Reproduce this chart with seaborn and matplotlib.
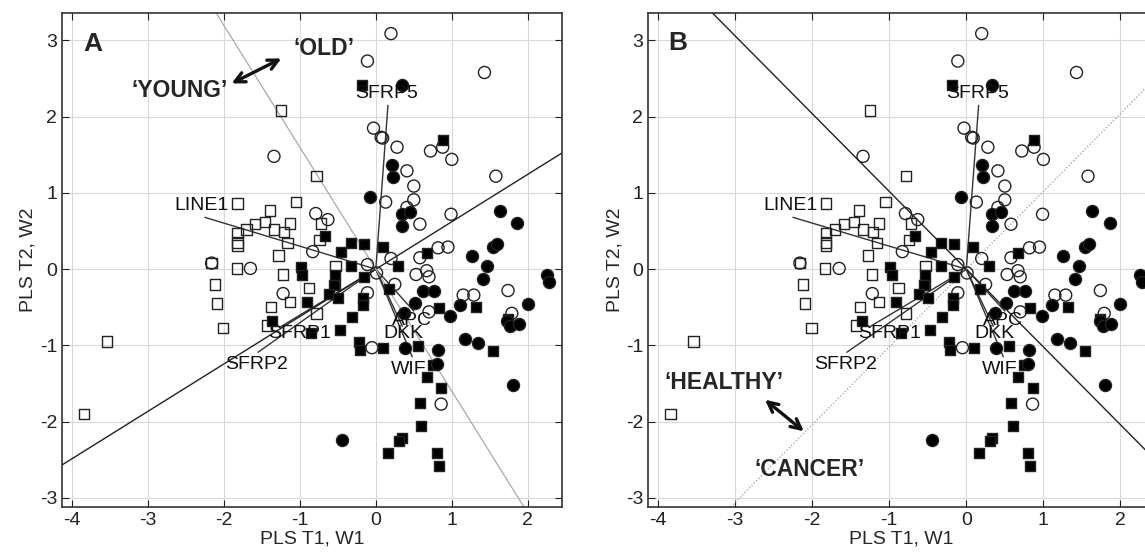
import numpy as np
import pandas as pd
import matplotlib
matplotlib.use('Agg')
import matplotlib.pyplot as plt
import seaborn as sns

# --- Datos (scores PLS) ---
open_sq_x = [-3.84, -3.54, -2.16, -2.12, -2.09, -2.01, -1.82, -1.82, -1.82, -1.82, -1.83, -1.70,
             -1.59, -1.46, -1.39, -1.38, -1.43, -1.34, -1.28, -1.25, -1.22, -1.21, -1.16, -1.13,
             -1.13, -1.05, -0.88, -0.78, -0.78, -0.74, -0.72, -0.54, -0.53]
open_sq_y = [-1.90, -0.95, 0.08, -0.20, -0.45, -0.77, 0.86, 0.47, 0.35, 0.31, 0.01, 0.52,
             0.59, 0.62, 0.77, -0.50, -0.74, 0.52, 0.18, 2.08, -0.07, 0.49, 0.34, 0.60,
             -0.43, 0.88, -0.25, -0.58, 1.22, 0.38, 0.60, -0.20, 0.04]

filled_sq_x = [-0.18, 0.88, -0.67, -0.33, -0.46, -0.16, 0.09, -0.33, 0.67, 0.29, -0.99, -0.97,
               -0.54, -0.16, -0.55, -0.62, -0.50, -0.91, -0.17, -0.17, -0.31, -1.36, -0.85, -0.47,
               -0.22, -0.21, 0.10, 0.55, 0.18, 0.83, 1.32, 1.54, 0.67, 0.75, 0.86, 0.58,
               0.60, 0.34, 0.31, 0.16, 0.80, 0.83, 1.74]
filled_sq_y = [2.42, 1.70, 0.43, 0.34, 0.22, 0.33, 0.29, 0.04, 0.21, 0.04, 0.03, -0.07,
               -0.07, -0.10, -0.21, -0.32, -0.38, -0.43, -0.38, -0.47, -0.63, -0.68, -0.84, -0.80,
               -0.96, -1.06, -1.03, -1.01, -0.26, -0.51, -0.50, -1.08, -1.41, -1.26, -1.56, -1.76,
               -2.06, -2.21, -2.26, -2.41, -2.41, -2.58, -0.66]

open_ci_x = [0.20, -0.11, 1.43, -0.03, 0.07, 0.09, 0.28, 0.72, 0.88, 1.00, 1.58, 0.41,
             0.50, 0.50, 0.13, 0.41, 0.58, 0.99, 0.82, 0.95, 0.58, 0.20, 0.53, 0.67,
             0.70, 0.01, -0.11, -0.79, -0.63, -0.83, -1.34, -1.65, -2.16, -1.22, -0.11, 0.25,
             -0.05, 0.86, 0.70, 1.15, 1.29, 1.74, 1.79]
open_ci_y = [3.09, 2.73, 2.58, 1.85, 1.73, 1.72, 1.60, 1.55, 1.60, 1.44, 1.22, 1.29,
             1.09, 0.91, 0.88, 0.81, 0.59, 0.72, 0.28, 0.29, 0.15, 0.14, -0.07, -0.02,
             -0.10, -0.05, 0.06, 0.73, 0.65, 0.23, 1.48, 0.01, 0.08, -0.32, -0.31, -0.20,
             -1.03, -1.77, -0.56, -0.34, -0.34, -0.28, -0.58]

filled_ci_x = [0.34, 0.21, 0.22, -0.07, 0.34, 0.45, 0.34, 1.63, 1.86, 1.54, 1.59, 1.26,
               1.46, 2.25, 2.28, 1.41, 0.62, 0.76, 0.51, 1.11, 0.37, 0.98, 2.00, 1.73,
               1.77, 1.88, 0.38, 0.82, 0.80, 1.18, 1.35, 1.80, -0.45]
filled_ci_y = [2.41, 1.37, 1.21, 0.95, 0.72, 0.75, 0.56, 0.76, 0.60, 0.29, 0.33, 0.17,
               0.04, -0.07, -0.17, -0.13, -0.29, -0.29, -0.45, -0.47, -0.58, -0.62, -0.46, -0.68,
               -0.75, -0.72, -1.04, -1.06, -1.25, -0.91, -0.97, -1.52, -2.24]

# Vectores de carga (W) y posición de sus etiquetas
load_names = ['LINE1', 'SFRP5', 'SFRP1', 'SFRP2', 'APC', 'DKK', 'WIF']
load_x = [-2.25, 0.16, -1.26, -1.55, 0.50, 0.35, 0.48]
load_y = [0.68, 2.15, -0.76, -1.09, -0.55, -0.75, -1.15]
label_x = [-1.93, 0.14, -1.00, -1.57, 0.47, 0.37, 0.43]
label_y = [0.83, 2.30, -0.84, -1.25, -0.67, -0.85, -1.31]
label_ha = ['right', 'center', 'center', 'center', 'center', 'center', 'center']

# Pendientes de las rectas discriminantes
slopes_a = [0.622, -1.60]
slopes_b = [-1.02, 1.02]

sns.set_style('ticks')
plt.rcParams['font.family'] = ['Liberation Sans', 'DejaVu Sans']
plt.rcParams['axes.unicode_minus'] = False


def draw_panel(ax):
    groups = [
        (open_sq_x, open_sq_y, 's', 'none', 55),
        (open_ci_x, open_ci_y, 'o', 'none', 75),
        (filled_sq_x, filled_sq_y, 's', 'black', 55),
        (filled_ci_x, filled_ci_y, 'o', 'black', 75),
    ]
    for gx, gy, mk, fc, sz in groups:
        df = pd.DataFrame({'t1': gx, 't2': gy})
        sns.scatterplot(data=df, x='t1', y='t2', marker=mk, s=sz, facecolor=fc,
                        edgecolor='#222222', linewidth=1.0, ax=ax, zorder=3)
    for lx, ly in zip(load_x, load_y):
        ax.plot([0, lx], [0, ly], color='#333333', lw=1.0, zorder=2)
    for name, tx, ty, ha in zip(load_names, label_x, label_y, label_ha):
        ax.text(tx, ty, name, ha=ha, va='center', fontsize=14, color='#111111', zorder=5)

    ax.set_xlim(-4.13, 2.45)
    ax.set_ylim(-3.12, 3.36)
    ax.set_xticks(range(-4, 3))
    ax.set_yticks(range(-3, 4))
    ax.grid(True, color='#d9d9d9', lw=0.8, zorder=0)
    ax.set_axisbelow(True)
    ax.tick_params(direction='in', top=True, right=True, length=5, labelsize=14, colors='#222222')
    for sp in ax.spines.values():
        sp.set_color('#333333')
        sp.set_linewidth(1.2)
    ax.set_xlabel('PLS T1, W1', fontsize=14, labelpad=1)
    ax.set_ylabel('PLS T2, W2', fontsize=14, labelpad=2)


fig = plt.figure(figsize=(11.45, 5.59), dpi=100)
ax_a = fig.add_axes([0.0541, 0.093, 0.4367, 0.8837])
ax_b = fig.add_axes([0.5660, 0.093, 0.4428, 0.8837])

# --- Panel A ---
draw_panel(ax_a)
ax_a.axline((0, 0), slope=slopes_a[0], color='#222222', lw=1.0, zorder=2)
ax_a.axline((0, 0), slope=slopes_a[1], color='#aaaaaa', lw=0.9, zorder=2)
ax_a.annotate('', xy=(-1.93, 2.42), xytext=(-1.21, 2.78),
              arrowprops=dict(arrowstyle='<->', lw=2.4, color='#111111', mutation_scale=18))
ax_a.text(-2.58, 2.35, '\u2018YOUNG\u2019', ha='center', va='center', fontsize=16.5, fontweight='bold')
ax_a.text(-0.68, 2.90, '\u2018OLD\u2019', ha='center', va='center', fontsize=16.5, fontweight='bold')
ax_a.text(-3.72, 2.96, 'A', ha='center', va='center', fontsize=19, fontweight='bold')

# --- Panel B ---
draw_panel(ax_b)
ax_b.axline((0, 0), slope=slopes_b[0], color='#222222', lw=1.0, zorder=2)
ax_b.axline((0, 0), slope=slopes_b[1], color='#999999', lw=0.9, ls=':', zorder=2)
ax_b.annotate('', xy=(-2.64, -1.69), xytext=(-2.08, -2.15),
              arrowprops=dict(arrowstyle='<->', lw=2.4, color='#111111', mutation_scale=18))
ax_b.text(-3.14, -1.49, '\u2018HEALTHY\u2019', ha='center', va='center', fontsize=16.5, fontweight='bold')
ax_b.text(-2.04, -2.63, '\u2018CANCER\u2019', ha='center', va='center', fontsize=16.5, fontweight='bold')
ax_b.text(-3.74, 2.97, 'B', ha='center', va='center', fontsize=19, fontweight='bold')

fig.savefig('out.png', dpi=100)
